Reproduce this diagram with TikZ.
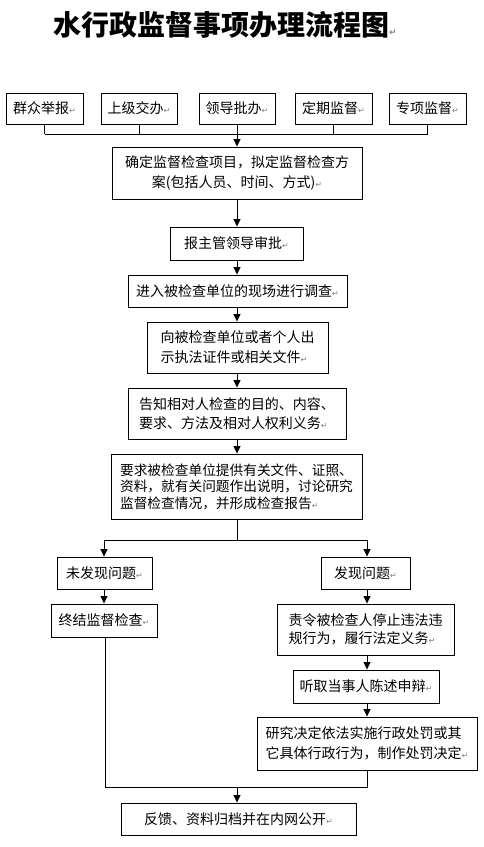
\documentclass[tikz,border=0pt]{standalone}
\usepackage{fontspec}
\newfontfamily\cjk{Noto Sans CJK SC}
\newfontfamily\djv{DejaVu Sans}
\usetikzlibrary{arrows.meta}
\newcommand{\pmk}{{\djv\fontsize{8}{8}\selectfont\color{black!50}↵}}
\tikzset{
  bx/.style={draw, line width=0.9pt, inner sep=0pt, align=left,
    font=\cjk\fontsize{14}{20}\selectfont},
  bxc/.style={bx, align=center},
  ln/.style={line width=0.9pt},
  arr/.style={line width=0.9pt, -{Triangle[length=7.5pt,width=7pt]}}
}
\begin{document}
\begin{tikzpicture}[x=1pt,y=-1pt]
\useasboundingbox (0,0) rectangle (483,847);
\fill[white] (0,0) rectangle (483,847);
% title
\node[anchor=west, inner sep=0pt, font=\cjk\bfseries\fontsize{28}{28}\selectfont] (title) at (53,25)
  {水行政监督事项办理流程图{\djv\fontsize{9}{9}\selectfont\color{black!50}↵}};
% sources
\node[bx, minimum width=77pt, minimum height=31pt] (s1) at (44.5,108.5) {群众举报\pmk};
\node[bx, minimum width=76pt, minimum height=31pt] (s2) at (139,108.5) {上级交办\pmk};
\node[bx, minimum width=76pt, minimum height=31pt] (s3) at (237,108.5) {领导批办\pmk};
\node[bx, minimum width=77pt, minimum height=31pt] (s4) at (333.5,108.5) {定期监督\pmk};
\node[bx, minimum width=77pt, minimum height=31pt] (s5) at (427.5,108.5) {专项监督\pmk};
% main chain
\node[bxc, minimum width=250pt, minimum height=52pt] (b1) at (237,173)
  {确定监督检查项目，拟定监督检查方\\案(包括人员、时间、方式)\pmk};
\node[bx, minimum width=133pt, minimum height=33pt] (b2) at (236.5,243.5) {报主管领导审批\pmk};
\node[bx, minimum width=219pt, minimum height=32pt] (b3) at (237.5,291) {进入被检查单位的现场进行调查\pmk};
\node[bx, minimum width=181pt, minimum height=51pt] (b4) at (237.5,347.5)
  {向被检查单位或者个人出\\示执法证件或相关文件\pmk};
\node[bx, minimum width=218pt, minimum height=51pt, font=\cjk\fontsize{14}{19}\selectfont] (b5) at (237,413.5)
  {告知相对人检查的目的、内容、\\要求、方法及相对人权利义务\pmk};
\node[bx, minimum width=251pt, minimum height=65pt, font=\cjk\fontsize{13.7}{16.5}\selectfont] (b6) at (236.5,486.5)
  {要求被检查单位提供有关文件、证照、\\资料，就有关问题作出说明，讨论研究\\监督检查情况，并形成检查报告\pmk};
% branches
\node[bx, minimum width=95pt, minimum height=32pt] (l1) at (104.5,573) {未发现问题\pmk};
\node[bx, minimum width=89pt, minimum height=32pt] (r1) at (365.5,573) {发现问题\pmk};
\node[bx, minimum width=106pt, minimum height=33pt] (l2) at (104,620.5) {终结监督检查\pmk};
\node[bx, minimum width=177pt, minimum height=51pt, font=\cjk\fontsize{14}{18}\selectfont] (r2) at (365.5,629.5)
  {责令被检查人停止违法违\\规行为，履行法定义务\pmk};
\node[bx, minimum width=146pt, minimum height=33pt] (r3) at (366,686.5) {听取当事人陈述申辩\pmk};
\node[bx, minimum width=220pt, minimum height=53pt] (r4) at (367,743.5)
  {研究决定依法实施行政处罚或其\\它具体行政行为，制作处罚决定\pmk};
\node[bx, minimum width=235pt, minimum height=32pt] (f) at (238.5,819) {反馈、资料归档并在内网公开\pmk};
% junction coordinates
\coordinate (ta) at (44.5,134);
\coordinate (te) at (427.5,134);
\coordinate (tm) at (237,134);
\coordinate (sm) at (237,540);
\coordinate (sl) at (104,540);
\coordinate (sr) at (367,540);
\coordinate (ml) at (105,787);
\coordinate (mr) at (367,787);
\coordinate (mm) at (237,787);
% top bus
\draw[ln] (s1.south) -- (s1.south |- tm);
\draw[ln] (s2.south) -- (s2.south |- tm);
\draw[ln] (s3.south) -- (s3.south |- tm);
\draw[ln] (s4.south) -- (s4.south |- tm);
\draw[ln] (s5.south) -- (s5.south |- tm);
\draw[ln] (ta) -- (te);
\draw[arr] (tm) -- (tm |- b1.north);
% chain
\draw[arr] (tm |- b1.south) -- (tm |- b2.north);
\draw[arr] (tm |- b2.south) -- (tm |- b3.north);
\draw[arr] (tm |- b3.south) -- (tm |- b4.north);
\draw[arr] (tm |- b4.south) -- (tm |- b5.north);
\draw[arr] (tm |- b5.south) -- (tm |- b6.north);
% split
\draw[ln] (tm |- b6.south) -- (sm);
\draw[ln] (sl) -- (sr);
\draw[arr] (sl) -- (sl |- l1.north);
\draw[arr] (sr) -- (sr |- r1.north);
\draw[arr] (sl |- l1.south) -- (sl |- l2.north);
\draw[arr] (sr |- r1.south) -- (sr |- r2.north);
\draw[arr] (sr |- r2.south) -- (sr |- r3.north);
\draw[arr] (sr |- r3.south) -- (sr |- r4.north);
% merge
\draw[ln] (ml |- l2.south) -- (ml) -- (mr) -- (mr |- r4.south);
\draw[arr] (mm) -- (mm |- f.north);
\end{tikzpicture}
\end{document}
